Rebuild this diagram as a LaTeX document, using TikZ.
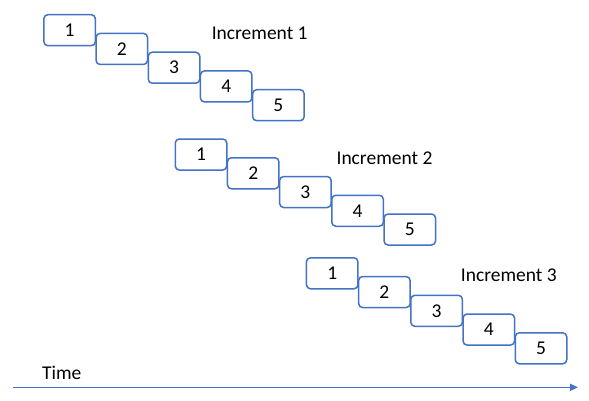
\documentclass[tikz,border=0pt]{standalone}
\usepackage{fontspec}
\setmainfont{Carlito}
\usetikzlibrary{arrows.meta}
\definecolor{obl}{HTML}{4472C4}
\begin{document}
\begin{tikzpicture}[x=1pt,y=-1pt,
  stepbox/.style={draw=obl,line width=1.5pt,rounded corners=4pt,minimum width=51.5pt,minimum height=31pt,inner sep=0pt,font=\fontsize{19.5}{21}\selectfont,fill=white},
  lab/.style={font=\fontsize{19.5}{21}\selectfont,inner sep=0pt}]
\useasboundingbox (0,0) rectangle (589,400);
\foreach \n/\bx/\by in {a/69.6/30.2, b/201/154.5, c/332.2/273.3}{
  \foreach \i in {1,...,5}{
    \node[stepbox] (\n\i) at ({\bx+(\i-1)*52.2},{\by+(\i-1)*18.75}) {\i};
  }
}
\node[lab] (inc1) at (259.7,33) {Increment 1};
\node[lab] (inc2) at (384.5,158) {Increment 2};
\node[lab] (inc3) at (508.8,275.7) {Increment 3};
\node[lab] (time) at (61.7,373) {Time};
\coordinate (ts) at (13,387.3);
\coordinate (te) at (578,387.3);
\draw[obl,line width=1.5pt,-{Triangle[length=8pt,width=7pt]}] (ts) -- (te);
\end{tikzpicture}
\end{document}
